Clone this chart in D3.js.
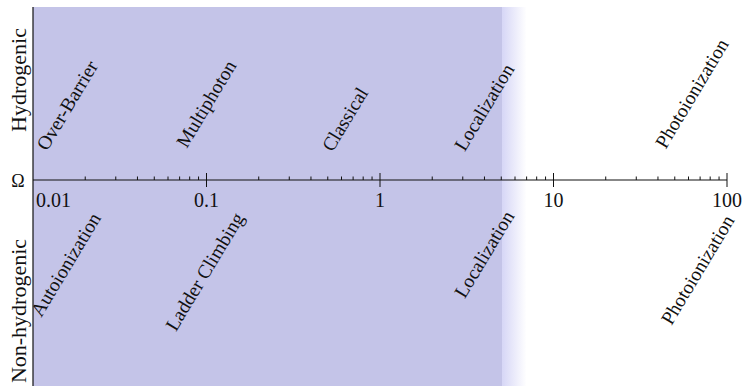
<!DOCTYPE html>
<html>
<head>
<meta charset="utf-8">
<script src="https://cdn.jsdelivr.net/npm/d3@7"></script>
<style>
  html, body { margin: 0; padding: 0; background: #fff; }
  svg { display: block; }
</style>
</head>
<body>
<svg id="chart" width="742" height="386"></svg>
<script>
// Axis ticks (frequency ratio, log scale)
const tickValues = [0.01, 0.1, 1, 10, 100];
const tickLabels = ["0.01", "0.1", "1", "10", "100"];

// Regimes for hydrogenic atoms (upper half)
const hydrogenicRegimes = ["Over-Barrier", "Multiphoton", "Classical", "Localization", "Photoionization"];
const hydrogenicX = [0.0158, 0.1, 0.63, 4.0, 63];
const hydrogenicY = [0.43, 0.44, 0.35, 0.42, 0.5];

// Regimes for non-hydrogenic atoms (lower half)
const nonHydrogenicRegimes = ["Autoionization", "Ladder Climbing", "Localization", "Photoionization"];
const nonHydrogenicX = [0.0155, 0.098, 4.0, 68];
const nonHydrogenicY = [-0.49, -0.53, -0.43, -0.52];

// Shaded low-frequency band and its fade-out edge
const bandStart = 0.01;
const bandEnd = 5.05;
const fadeEnd = 7.0;

const FONT = "'Liberation Serif', 'DejaVu Serif', 'Times New Roman', serif";

const svg = d3.select("#chart")
  .attr("font-family", FONT);
const x = d3.scaleLog().domain([0.01, 100]).range([33, 727]);
const y = d3.scaleLinear().domain([-1, 1]).range([353, 7]);
const yBottom = 386;

// gradient for the soft right edge of the band
const defs = svg.append("defs");
const grad = defs.append("linearGradient").attr("id", "fade")
  .attr("x1", "0%").attr("x2", "100%").attr("y1", "0%").attr("y2", "0%");
grad.append("stop").attr("offset", "0%").attr("stop-color", "#d6d6f6");
grad.append("stop").attr("offset", "100%").attr("stop-color", "#ffffff");

svg.append("rect")
  .attr("x", x(bandStart)).attr("y", y(1))
  .attr("width", x(bandEnd) - x(bandStart)).attr("height", yBottom - y(1))
  .attr("fill", "#c4c4e8");
svg.append("rect")
  .attr("x", x(bandEnd)).attr("y", y(1))
  .attr("width", x(fadeEnd) - x(bandEnd)).attr("height", yBottom - y(1))
  .attr("fill", "url(#fade)");

// vertical axis line
svg.append("line")
  .attr("x1", x(0.01)).attr("x2", x(0.01))
  .attr("y1", y(1)).attr("y2", yBottom)
  .attr("stroke", "#111").attr("stroke-width", 1.2);

// horizontal axis line
svg.append("line")
  .attr("x1", x(0.01)).attr("x2", x(100))
  .attr("y1", y(0)).attr("y2", y(0))
  .attr("stroke", "#111").attr("stroke-width", 1.2);

// minor ticks (upward only) and major ticks (crossing)
const isMajor = v => tickValues.some(t => Math.abs(t - v) / t < 1e-9);
const allTicks = x.ticks();
svg.append("g").selectAll("line")
  .data(allTicks.filter(v => !isMajor(v)))
  .join("line")
  .attr("x1", d => x(d)).attr("x2", d => x(d))
  .attr("y1", y(0) - 3.5).attr("y2", y(0))
  .attr("stroke", "#111").attr("stroke-width", 1);
svg.append("g").selectAll("line")
  .data(tickValues.slice(1))
  .join("line")
  .attr("x1", d => x(d)).attr("x2", d => x(d))
  .attr("y1", y(0) - 7).attr("y2", y(0) + 7)
  .attr("stroke", "#111").attr("stroke-width", 1);

// shared text styling
function styled(sel, size) {
  return sel.attr("font-family", FONT)
    .style("font-family", FONT)
    .style("font-size", size + "px")
    .attr("fill", "#111");
}

// tick labels
styled(svg.append("g").selectAll("text")
  .data(tickValues)
  .join("text")
  .attr("x", (d, i) => i === 0 ? x(d) + 3 : x(d))
  .attr("y", y(0) + 27)
  .attr("text-anchor", (d, i) => i === 0 ? "start" : "middle")
  .text((d, i) => tickLabels[i]), 20);

// axis symbol
styled(svg.append("text")
  .attr("x", 18).attr("y", y(0) + 7)
  .attr("text-anchor", "middle")
  .text("Ω"), 18);

// side labels
styled(svg.append("text")
  .attr("transform", "translate(26,80) rotate(-90)")
  .attr("text-anchor", "middle")
  .text("Hydrogenic"), 22);
styled(svg.append("text")
  .attr("transform", "translate(26,311) rotate(-90)")
  .attr("text-anchor", "middle")
  .text("Non-hydrogenic"), 22);

// regime labels
const angle = -59;
function drawRegimes(names, xs, ys) {
  styled(svg.append("g").selectAll("text")
    .data(names)
    .join("text")
    .attr("transform", (d, i) => `translate(${x(xs[i])},${y(ys[i])}) rotate(${angle})`)
    .attr("text-anchor", "middle")
    .attr("dy", "0.32em")
    .text(d => d), 19.5);
}
drawRegimes(hydrogenicRegimes, hydrogenicX, hydrogenicY);
drawRegimes(nonHydrogenicRegimes, nonHydrogenicX, nonHydrogenicY);
</script>
</body>
</html>
